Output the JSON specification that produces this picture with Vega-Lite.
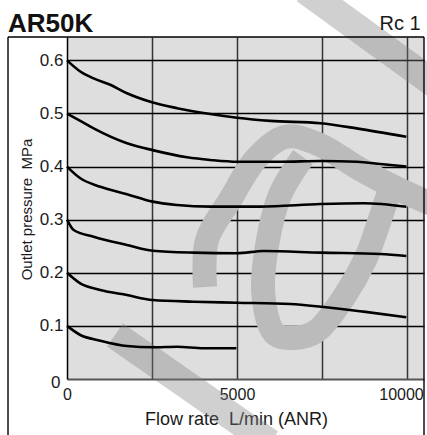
{
  "$schema": "https://vega.github.io/schema/vega-lite/v6.json",
  "width": 357,
  "height": 342,
  "autosize": "none",
  "padding": {"left": 67, "top": 37, "right": 3, "bottom": 56},
  "background": "white",
  "config": {"view": {"fill": "#dedede", "stroke": null}, "font": "Liberation Sans", "axis": {"zindex": 1}},
  "datasets": {
    "curves": [
      {"s": "0.6", "flow": 0, "p": 0.600}, {"s": "0.6", "flow": 391, "p": 0.579}, {"s": "0.6", "flow": 783, "p": 0.566}, {"s": "0.6", "flow": 1274, "p": 0.554}, {"s": "0.6", "flow": 1765, "p": 0.538}, {"s": "0.6", "flow": 2450, "p": 0.522}, {"s": "0.6", "flow": 3235, "p": 0.510}, {"s": "0.6", "flow": 4215, "p": 0.499}, {"s": "0.6", "flow": 5000, "p": 0.492}, {"s": "0.6", "flow": 5980, "p": 0.486}, {"s": "0.6", "flow": 7450, "p": 0.4815}, {"s": "0.6", "flow": 8520, "p": 0.472}, {"s": "0.6", "flow": 9980, "p": 0.456},
      {"s": "0.5", "flow": 0, "p": 0.500}, {"s": "0.5", "flow": 391, "p": 0.486}, {"s": "0.5", "flow": 783, "p": 0.472}, {"s": "0.5", "flow": 1765, "p": 0.444}, {"s": "0.5", "flow": 2518, "p": 0.431}, {"s": "0.5", "flow": 3530, "p": 0.4175}, {"s": "0.5", "flow": 4215, "p": 0.4124}, {"s": "0.5", "flow": 5000, "p": 0.409}, {"s": "0.5", "flow": 6275, "p": 0.409}, {"s": "0.5", "flow": 7470, "p": 0.4105}, {"s": "0.5", "flow": 8530, "p": 0.409}, {"s": "0.5", "flow": 9215, "p": 0.405}, {"s": "0.5", "flow": 9980, "p": 0.400},
      {"s": "0.4", "flow": 0, "p": 0.400}, {"s": "0.4", "flow": 391, "p": 0.378}, {"s": "0.4", "flow": 980, "p": 0.362}, {"s": "0.4", "flow": 1765, "p": 0.348}, {"s": "0.4", "flow": 2518, "p": 0.334}, {"s": "0.4", "flow": 3235, "p": 0.3277}, {"s": "0.4", "flow": 4215, "p": 0.3245}, {"s": "0.4", "flow": 5686, "p": 0.3245}, {"s": "0.4", "flow": 7470, "p": 0.3296}, {"s": "0.4", "flow": 8725, "p": 0.331}, {"s": "0.4", "flow": 9980, "p": 0.3245},
      {"s": "0.3", "flow": 0, "p": 0.300}, {"s": "0.3", "flow": 195, "p": 0.2806}, {"s": "0.3", "flow": 783, "p": 0.268}, {"s": "0.3", "flow": 1765, "p": 0.2524}, {"s": "0.3", "flow": 2518, "p": 0.2416}, {"s": "0.3", "flow": 3725, "p": 0.2379}, {"s": "0.3", "flow": 5000, "p": 0.2367}, {"s": "0.3", "flow": 5784, "p": 0.241}, {"s": "0.3", "flow": 7470, "p": 0.2379}, {"s": "0.3", "flow": 9215, "p": 0.2354}, {"s": "0.3", "flow": 9980, "p": 0.2316},
      {"s": "0.2", "flow": 0, "p": 0.200}, {"s": "0.2", "flow": 391, "p": 0.180}, {"s": "0.2", "flow": 980, "p": 0.1676}, {"s": "0.2", "flow": 1765, "p": 0.158}, {"s": "0.2", "flow": 2518, "p": 0.1488}, {"s": "0.2", "flow": 3725, "p": 0.1456}, {"s": "0.2", "flow": 5000, "p": 0.1437}, {"s": "0.2", "flow": 6568, "p": 0.1412}, {"s": "0.2", "flow": 7470, "p": 0.1362}, {"s": "0.2", "flow": 8725, "p": 0.1268}, {"s": "0.2", "flow": 9980, "p": 0.1162},
      {"s": "0.1", "flow": 0, "p": 0.100}, {"s": "0.1", "flow": 391, "p": 0.0829}, {"s": "0.1", "flow": 980, "p": 0.0722}, {"s": "0.1", "flow": 1765, "p": 0.0621}, {"s": "0.1", "flow": 2518, "p": 0.0597}, {"s": "0.1", "flow": 3235, "p": 0.0608}, {"s": "0.1", "flow": 4020, "p": 0.0578}, {"s": "0.1", "flow": 4980, "p": 0.0578}
    ],
    "mark_loop": [
      {"part": "arch", "i": 0, "fx": 4059, "fy": 0.1733}, {"part": "arch", "i": 1, "fx": 4118, "fy": 0.2618}, {"part": "arch", "i": 2, "fx": 4794, "fy": 0.3371}, {"part": "arch", "i": 3, "fx": 5529, "fy": 0.4124}, {"part": "arch", "i": 4, "fx": 6412, "fy": 0.4557}, {"part": "arch", "i": 5, "fx": 7441, "fy": 0.4407}, {"part": "arch", "i": 6, "fx": 8618, "fy": 0.3950}, {"part": "arch", "i": 7, "fx": 9794, "fy": 0.3560}, {"part": "arch", "i": 8, "fx": 10971, "fy": 0.3230},
      {"part": "loop", "i": 0, "fx": 6941, "fy": 0.4181}, {"part": "loop", "i": 1, "fx": 6265, "fy": 0.3465}, {"part": "loop", "i": 2, "fx": 5912, "fy": 0.2618}, {"part": "loop", "i": 3, "fx": 5765, "fy": 0.1676}, {"part": "loop", "i": 4, "fx": 6029, "fy": 0.0923}, {"part": "loop", "i": 5, "fx": 6618, "fy": 0.0772}, {"part": "loop", "i": 6, "fx": 7382, "fy": 0.0923}, {"part": "loop", "i": 7, "fx": 8147, "fy": 0.1544}, {"part": "loop", "i": 8, "fx": 8765, "fy": 0.2241}, {"part": "loop", "i": 9, "fx": 9147, "fy": 0.2900}, {"part": "loop", "i": 10, "fx": 9441, "fy": 0.3465}
    ],
    "mark_bands": [
      {"part": "A", "i": 0, "fx": 7000, "fy": 0.7326}, {"part": "A", "i": 1, "fx": 10971, "fy": 0.5480},
      {"part": "B", "i": 0, "fx": 1412, "fy": 0.0829}, {"part": "B", "i": 1, "fx": 5971, "fy": -0.1205}
    ]
  },
  "layer": [
    {
      "data": {"name": "mark_loop"},
      "mark": {"type": "line", "color": "#bbbbbb", "strokeWidth": 24, "strokeCap": "butt", "strokeJoin": "round", "interpolate": "cardinal", "clip": false},
      "encoding": {
        "x": {"field": "fx", "type": "quantitative", "scale": {"domain": [0, 10500], "nice": false}},
        "y": {"field": "fy", "type": "quantitative", "scale": {"domain": [0, 0.644], "nice": false}},
        "detail": {"field": "part"},
        "order": {"field": "i"}
      }
    },
    {
      "data": {"name": "mark_bands"},
      "mark": {"type": "line", "color": "#7e7e7e", "opacity": 0.36, "strokeWidth": 28, "strokeCap": "butt", "clip": false},
      "encoding": {
        "x": {"field": "fx", "type": "quantitative", "scale": {"domain": [0, 10500], "nice": false}},
        "y": {"field": "fy", "type": "quantitative", "scale": {"domain": [0, 0.644], "nice": false}},
        "detail": {"field": "part"},
        "order": {"field": "i"}
      }
    },
    {
      "data": {"name": "curves"},
      "mark": {"type": "line", "color": "#000", "strokeWidth": 2.6, "interpolate": "monotone"},
      "encoding": {
        "x": {
          "field": "flow", "type": "quantitative",
          "scale": {"domain": [0, 10500], "nice": false},
          "axis": {
            "values": [0, 2500, 5000, 7500, 10000], "format": "d",
            "labelExpr": "datum.value % 5000 === 0 ? datum.label : ''",
            "ticks": false, "labelPadding": 7, "labelFontSize": 16, "labelColor": "#1a1a1a", "labelFlush": false, "labelOverlap": false,
            "labelOffset": {"condition": {"test": "datum.value === 10000", "value": -6}, "value": 0},
            "domainColor": "#555", "domainWidth": 2,
            "grid": true, "gridColor": "#333", "gridWidth": 1.5,
            "gridOpacity": {"condition": {"test": "datum.value === 0", "value": 0}, "value": 1},
            "title": "Flow rate\u00a0 L/min (ANR)", "titleFontSize": 18, "titleFontWeight": "normal", "titleColor": "#1a1a1a",
            "titleX": 169, "titleY": 45, "titleBaseline": "alphabetic", "titleAlign": "center"
          }
        },
        "y": {
          "field": "p", "type": "quantitative",
          "scale": {"domain": [0, 0.644], "nice": false},
          "axis": {
            "values": [0, 0.1, 0.2, 0.3, 0.4, 0.5, 0.6], "format": ".1f",
            "labelExpr": "datum.value === 0 ? '0' : datum.label",
            "ticks": false, "labelFontSize": 17, "labelColor": "#1a1a1a", "labelOverlap": false,
            "labelPadding": {"condition": {"test": "datum.value === 0", "value": 7}, "value": 4},
            "labelOffset": {"condition": {"test": "datum.value === 0", "value": 3}, "value": 0},
            "domainColor": "#000", "domainWidth": 1.5,
            "grid": true, "gridColor": "#000", "gridWidth": 1.3,
            "gridOpacity": {"condition": {"test": "datum.value === 0", "value": 0}, "value": 1},
            "title": "Outlet pressure\u00a0 MPa", "titleFontSize": 15, "titleFontWeight": "normal", "titleColor": "#1a1a1a",
            "titleX": -36, "titleY": 172, "titleBaseline": "alphabetic", "titleAlign": "center"
          }
        },
        "detail": {"field": "s"}
      }
    },
    {
      "data": {"values": [{"side": "left"}]},
      "mark": {"type": "rule", "color": "#000", "strokeWidth": 1.4, "clip": false},
      "encoding": {
        "x": {"datum": -1735, "type": "quantitative", "scale": {"domain": [0, 10500], "nice": false}},
        "y": {"datum": 0.644, "type": "quantitative", "scale": {"domain": [0, 0.644], "nice": false}},
        "y2": {"datum": -0.12}
      }
    },
    {
      "data": {"values": [{"side": "right"}]},
      "mark": {"type": "rule", "color": "#000", "strokeWidth": 1.4, "clip": false},
      "encoding": {
        "x": {"datum": 10500, "type": "quantitative", "scale": {"domain": [0, 10500], "nice": false}},
        "y": {"datum": 0.644, "type": "quantitative", "scale": {"domain": [0, 0.644], "nice": false}},
        "y2": {"datum": -0.12}
      }
    },
    {
      "data": {"values": [{"side": "top"}]},
      "mark": {"type": "rule", "color": "#000", "strokeWidth": 1.4, "clip": false},
      "encoding": {
        "x": {"datum": -1735, "type": "quantitative", "scale": {"domain": [0, 10500], "nice": false}},
        "x2": {"datum": 10500},
        "y": {"datum": 0.644, "type": "quantitative", "scale": {"domain": [0, 0.644], "nice": false}}
      }
    },
    {
      "data": {"values": [{"label": "AR50K"}]},
      "mark": {"type": "text", "align": "left", "baseline": "alphabetic", "fontSize": 26, "fontWeight": "bold", "font": "Liberation Sans", "color": "#111", "clip": false},
      "encoding": {
        "text": {"field": "label"},
        "x": {"datum": -1735, "type": "quantitative", "scale": {"domain": [0, 10500], "nice": false}},
        "y": {"datum": 0.6525, "type": "quantitative", "scale": {"domain": [0, 0.644], "nice": false}}
      }
    },
    {
      "data": {"values": [{"label": "Rc 1"}]},
      "mark": {"type": "text", "align": "right", "baseline": "alphabetic", "fontSize": 20, "font": "Liberation Sans", "color": "#1a1a1a", "clip": false},
      "encoding": {
        "text": {"field": "label"},
        "x": {"datum": 10400, "type": "quantitative", "scale": {"domain": [0, 10500], "nice": false}},
        "y": {"datum": 0.657, "type": "quantitative", "scale": {"domain": [0, 0.644], "nice": false}}
      }
    }
  ]
}
